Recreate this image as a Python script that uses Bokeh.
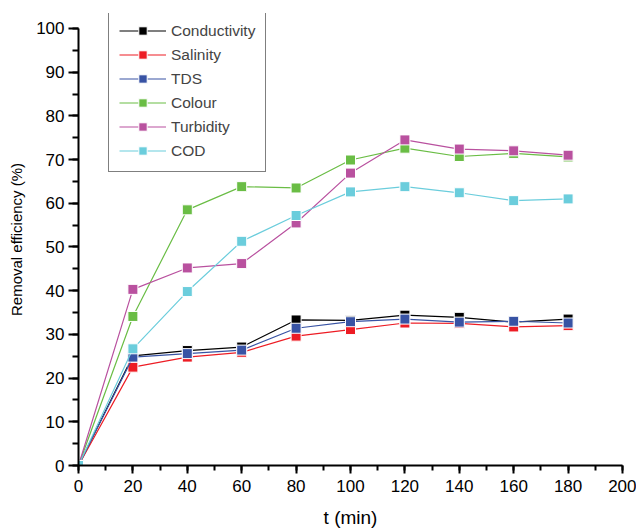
from bokeh.plotting import figure
from bokeh.models import SingleIntervalTicker, Range1d, Legend, LegendItem
from bokeh.embed import file_html
from bokeh.resources import INLINE

t = [0, 20, 40, 60, 80, 100, 120, 140, 160, 180]
conductivity = [0, 25.1, 26.3, 27.1, 33.3, 33.2, 34.4, 33.9, 32.8, 33.5]
salinity = [0, 22.5, 24.8, 25.9, 29.6, 31.1, 32.6, 32.5, 31.7, 32.0]
tds = [0, 24.8, 25.6, 26.4, 31.4, 32.9, 33.5, 32.8, 33.0, 32.6]
colour = [0, 34.1, 58.5, 63.8, 63.5, 69.9, 72.6, 70.7, 71.4, 70.6]
turbidity = [0, 40.3, 45.2, 46.2, 55.5, 66.9, 74.5, 72.4, 72.0, 71.0]
cod = [0, 26.7, 39.8, 51.3, 57.2, 62.6, 63.8, 62.4, 60.6, 61.0]

names = ["Conductivity", "Salinity", "TDS", "Colour", "Turbidity", "COD"]
series = [conductivity, salinity, tds, colour, turbidity, cod]
colors = ["#000000", "#ED1C24", "#3853A4", "#6ABD45", "#B9519F", "#6BCDDC"]

FONT = "Liberation Sans"

p = figure(width=636, height=530, output_backend="svg", toolbar_location=None,
           x_range=Range1d(0, 200), y_range=Range1d(0, 103.42),
           min_border_left=78, min_border_right=14, min_border_top=13,
           min_border_bottom=63)
p.outline_line_color = None
p.grid.visible = False
p.background_fill_color = "white"

items = []
for name, ys, c in zip(names, series, colors):
    ln = p.line(t, ys, line_color=c, line_width=1.2)
    sc = p.scatter(t, ys, marker="square", size=10, fill_color=c,
                   line_color="white", line_width=1)
    items.append(LegendItem(label=name, renderers=[ln, sc]))

for ax in (p.xaxis[0], p.yaxis[0]):
    ax.axis_line_width = 2
    ax.major_tick_line_width = 2
    ax.minor_tick_line_width = 2
    ax.major_tick_in = 0
    ax.minor_tick_in = 0
    ax.major_label_text_font = FONT
    ax.major_label_text_font_size = "17px"
    ax.major_label_text_color = "black"
    ax.axis_label_text_font = FONT
    ax.axis_label_text_font_style = "normal"
    ax.axis_label_text_color = "black"

xa, ya = p.xaxis[0], p.yaxis[0]
xa.ticker = SingleIntervalTicker(interval=20, num_minor_ticks=2)
ya.ticker = SingleIntervalTicker(interval=10, num_minor_ticks=2)
ya.bounds = (0, 100)
xa.major_tick_out = 8
xa.minor_tick_out = 5
ya.major_tick_out = 10
ya.minor_tick_out = 6
xa.axis_label = "t (min)"
xa.axis_label_text_font_size = "19px"
xa.axis_label_standoff = 12
xa.major_label_standoff = 6
ya.axis_label = "Removal efficiency (%)"
ya.axis_label_text_font_size = "15px"
ya.major_label_standoff = 4
ya.axis_label_standoff = 8

legend = Legend(items=items, location=(30, 293))
legend.label_text_font = FONT
legend.label_text_font_size = "15.5px"
legend.glyph_width = 47
legend.glyph_height = 21
legend.label_height = 21
legend.spacing = 3
legend.padding = 10
legend.margin = 0
legend.border_line_color = "black"
legend.border_line_width = 1.5
legend.background_fill_alpha = 1
p.add_layout(legend, "center")

open("out.html", "w").write(file_html(p, INLINE))
